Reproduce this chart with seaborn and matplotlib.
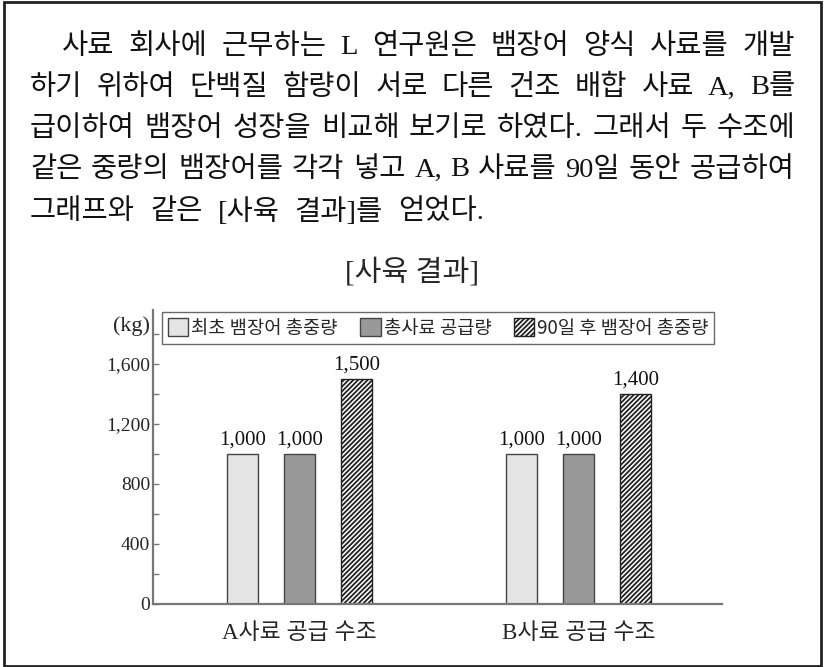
import matplotlib
matplotlib.use("Agg")
import matplotlib.pyplot as plt
from matplotlib.patches import Rectangle
from matplotlib.ticker import MultipleLocator, FuncFormatter
import seaborn as sns
import pandas as pd

# ---- data ----
tanks = ["A사료 공급 수조", "B사료 공급 수조"]
series = ["최초 뱀장어 총중량", "총사료 공급량", "90일 후 뱀장어 총중량"]
initial_weight = [1000, 1000]
feed_supplied = [1000, 1000]
final_weight = [1500, 1400]
y_ticks = [0, 400, 800, 1200, 1600]

paragraph = [
    "사료 회사에 근무하는 L 연구원은 뱀장어 양식 사료를 개발",
    "하기 위하여 단백질 함량이 서로 다른 건조 배합 사료 A, B를",
    "급이하여 뱀장어 성장을 비교해 보기로 하였다. 그래서 두 수조에",
    "같은 중량의 뱀장어를 각각 넣고 A, B 사료를 90일 동안 공급하여",
    "그래프와 같은 [사육 결과]를 얻었다.",
]
chart_title = "[사육 결과]"
unit_label = "(kg)"

rows = []
for vals, s in zip([initial_weight, feed_supplied, final_weight], series):
    for t, v in zip(tanks, vals):
        rows.append({"tank": t, "series": s, "value": v})
df = pd.DataFrame(rows)

sns.set_style("white")
MIX = ["Liberation Serif", "Noto Sans CJK KR"]
plt.rcParams["font.family"] = MIX
plt.rcParams["hatch.linewidth"] = 1.3

W, H = 824, 667
fig = plt.figure(figsize=(W / 100, H / 100), dpi=100)
ax = fig.add_axes([153 / W, 1 - 604 / H, (722 - 153) / W, (604 - 310) / H])

palette = ["#e4e4e4", "#999999", "#ffffff"]
sns.barplot(data=df, x="tank", y="value", hue="series", palette=palette,
            width=0.612, gap=0.455, edgecolor="#444444", linewidth=1.0,
            ax=ax, legend=False)

for bar in ax.containers[2]:
    bar.set_hatch("///////")
    bar.set_edgecolor("#222222")

for cont in ax.containers:
    ax.bar_label(cont, labels=[f"{b.get_height():,.0f}" for b in cont],
                 padding=3, fontsize=15, family="Liberation Serif", color="#111111")

ax.set_xlim(-0.525, 1.514)
ax.set_ylim(0, 1960)
ax.set_yticks(y_ticks)
ax.yaxis.set_minor_locator(MultipleLocator(200))
ax.yaxis.set_major_formatter(FuncFormatter(lambda v, p: f"{v:,.0f}"))
ax.tick_params(axis="y", which="both", direction="in", length=4, width=1,
               color="#777777", labelsize=14, pad=2, left=True)
for lab in ax.get_yticklabels():
    lab.set_family("Liberation Serif")
ax.tick_params(axis="x", length=0, labelsize=16.5, pad=14)
for lab in ax.get_xticklabels():
    lab.set_family(MIX)
ax.set_xlabel("")
ax.set_ylabel("")
for side in ["top", "right"]:
    ax.spines[side].set_visible(False)
for side in ["left", "bottom"]:
    ax.spines[side].set_color("#777777")
    ax.spines[side].set_linewidth(1.6)

handles = [cont.patches[0] for cont in ax.containers]
leg = ax.legend(handles, series, ncol=3, loc="upper left",
                bbox_to_anchor=(162 / W, 1 - 312 / H), bbox_transform=fig.transFigure,
                frameon=True, fancybox=False, fontsize=13.5, handlelength=1.1,
                handleheight=1.1, handletextpad=0.15, columnspacing=1.2,
                borderpad=0.3, borderaxespad=0)
leg.get_frame().set_edgecolor("#444444")
leg.get_frame().set_linewidth(1.0)
for t in leg.get_texts():
    t.set_family(["Noto Sans CJK KR"])

fig.text(150 / W, 1 - 326 / H, unit_label, ha="right", va="center",
         fontsize=16, family="Liberation Serif")
fig.text(412 / W, 1 - 272 / H, chart_title, ha="center", va="center", fontsize=21)

# ---- justified paragraph ----
fig.canvas.draw()
renderer = fig.canvas.get_renderer()
ys = [47, 88, 129, 170, 212]
xs = [62, 30, 30, 30, 30]
right_edge = 795
FS = 20.5
for i, (line, y, x0) in enumerate(zip(paragraph, ys, xs)):
    words = line.split(" ")
    arts = []
    widths = []
    for w_ in words:
        t = fig.text(0, 1 - y / H, w_, ha="left", va="center", fontsize=FS, color="#111111")
        bb = t.get_window_extent(renderer)
        arts.append(t)
        widths.append(bb.width)
    if i < len(paragraph) - 1:
        gap = (right_edge - x0 - sum(widths)) / (len(words) - 1)
    else:
        gap = 15
    xpos = x0
    for t, wd in zip(arts, widths):
        t.set_x(xpos / W)
        xpos += wd + gap

fig.add_artist(Rectangle((4 / W, 1 / H), (821 - 4) / W, (666 - 2) / H,
                         transform=fig.transFigure, fill=False,
                         edgecolor="#222222", linewidth=2))

fig.savefig("out.png", dpi=100)
